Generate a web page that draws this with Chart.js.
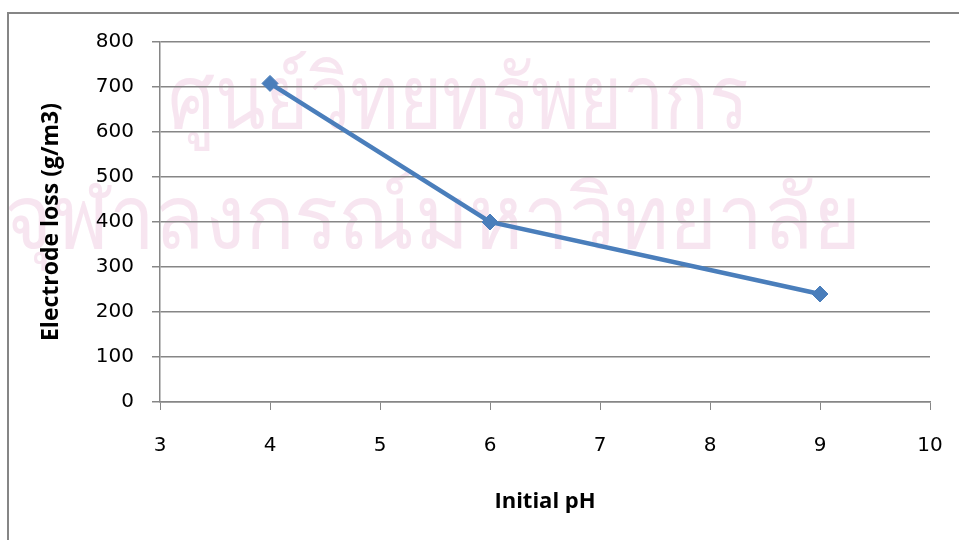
<!DOCTYPE html>
<html>
<head>
<meta charset="utf-8">
<script src="https://cdn.jsdelivr.net/npm/chart.js@4.4.0/dist/chart.umd.min.js"></script>
<style>
  html, body { margin: 0; padding: 0; background: #ffffff; }
  #wrap { width: 959px; height: 540px; position: relative; }
</style>
</head>
<body>
<div id="wrap"><canvas id="chart" width="959" height="540"></canvas></div>
<script>
// Initial pH of each run and the measured electrode loss (g/m3)
const phValues = [4, 6, 9];
const electrodeLoss = [708, 400, 240];

// Axis ranges and steps
const xRange = [3, 10];
const xStep = 1;
const yRange = [0, 800];
const yStep = 100;

// Axis titles and the background stamp text
const xTitle = 'Initial pH';
const yTitle = 'Electrode loss (g/m3)';
const stampLines = ['ศูนย์วิทยทรัพยากร', 'จุฬาลงกรณ์มหาวิทยาลัย'];

const gridGray = '#868686';
const seriesBlue = '#4a7ebb';

const points = phValues.map((x, i) => ({ x: x, y: electrodeLoss[i] }));

// White page, faint stamp text and the outer frame lines
const pagePlugin = {
  id: 'page',
  beforeDraw(chart) {
    const ctx = chart.ctx;
    ctx.save();
    ctx.fillStyle = '#ffffff';
    ctx.fillRect(0, 0, chart.width, chart.height);

    ctx.fillStyle = 'rgba(236, 192, 220, 0.42)';
    ctx.textBaseline = 'alphabetic';
    ctx.textAlign = 'left';
    ctx.font = '88px "Noto Sans", "DejaVu Sans", sans-serif';
    ctx.fillText(stampLines[0], 168, 128, 580);
    ctx.fillText(stampLines[1], 4, 248, 858);

    ctx.strokeStyle = gridGray;
    ctx.lineWidth = 2;
    ctx.beginPath();
    ctx.moveTo(8, 540);
    ctx.lineTo(8, 13);
    ctx.lineTo(959, 13);
    ctx.stroke();
    ctx.restore();
  }
};

new Chart(document.getElementById('chart'), {
  type: 'line',
  data: {
    datasets: [{
      data: points,
      borderColor: seriesBlue,
      backgroundColor: seriesBlue,
      borderWidth: 4.5,
      pointStyle: 'rectRot',
      pointRadius: 8,
      pointHoverRadius: 8,
      pointBorderWidth: 1,
      tension: 0
    }]
  },
  options: {
    responsive: false,
    animation: false,
    events: [],
    layout: { padding: { left: 0, top: 42, right: 29, bottom: 0 } },
    plugins: {
      legend: { display: false },
      title: { display: false },
      tooltip: { enabled: false }
    },
    scales: {
      x: {
        type: 'linear',
        min: xRange[0],
        max: xRange[1],
        afterFit(scale) {
          scale.height = 138;
          scale.paddingLeft = 0;
          scale.paddingRight = 0;
        },
        ticks: {
          stepSize: xStep,
          padding: 24,
          color: '#000000',
          font: { family: '"DejaVu Sans", sans-serif', size: 20 }
        },
        grid: {
          color: 'rgba(0,0,0,0)',
          tickColor: gridGray,
          tickLength: 8,
          drawTicks: true
        },
        border: { display: true, color: gridGray, width: 1.5 },
        title: {
          display: true,
          text: xTitle,
          color: '#000000',
          font: { family: '"Open Sans", sans-serif', size: 22, weight: 'bold' },
          padding: { top: 0, bottom: 25 }
        }
      },
      y: {
        type: 'linear',
        min: yRange[0],
        max: yRange[1],
        afterFit(scale) { scale.width = 160; },
        ticks: {
          stepSize: yStep,
          padding: 18,
          color: '#000000',
          font: { family: '"DejaVu Sans", sans-serif', size: 20 }
        },
        grid: {
          color: gridGray,
          tickColor: gridGray,
          lineWidth: 1.5,
          tickLength: 8
        },
        border: { display: true, color: gridGray, width: 1.5 },
        title: {
          display: true,
          text: yTitle,
          color: '#000000',
          font: { family: '"Open Sans", sans-serif', size: 23, weight: 'bold' },
          padding: { top: 38, bottom: 0 }
        }
      }
    }
  },
  plugins: [pagePlugin]
});
</script>
</body>
</html>
